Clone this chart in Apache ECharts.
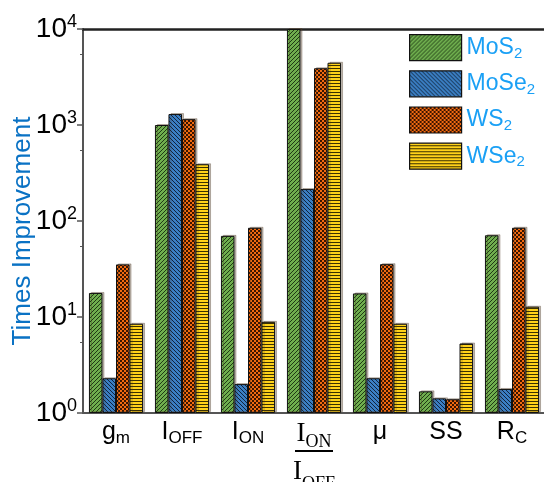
<!DOCTYPE html>
<html><head><meta charset="utf-8">
<script src="https://cdn.jsdelivr.net/npm/echarts@6/dist/echarts.min.js"></script>
<style>html,body{margin:0;padding:0;background:#fff}#c{width:544px;height:482px}</style>
</head><body><div id="c"></div>
<script>
const categories = ['gm', 'IOFF', 'ION', 'ION/IOFF', 'μ', 'SS', 'RC'];
const seriesNames = ['MoS2', 'MoSe2', 'WS2', 'WSe2'];
const mos2  = [17.8, 1000, 70, 10000, 17.6, 1.68, 71];
const mose2 = [2.3, 1300, 2.0, 215, 2.3, 1.42, 1.78];
const ws2   = [35.3, 1150, 85, 3900, 35.5, 1.39, 85];
const wse2  = [8.5, 390, 8.9, 4450, 8.5, 5.3, 12.8];
const yTicks = [1, 10, 100, 1000, 10000];

function pat(w, h, draw) {
  const c = document.createElement('canvas');
  c.width = w; c.height = h;
  const g = c.getContext('2d');
  draw(g, w, h);
  return { image: c, repeat: 'repeat' };
}
const greenPat = pat(4, 4, (g) => {
  g.fillStyle = '#6fae4e'; g.fillRect(0, 0, 4, 4);
  g.fillStyle = '#1f3a14';
  for (let i = 0; i < 4; i++) g.fillRect((3 - i + 4) % 4, i, 1, 1);
});
const bluePat = pat(4, 4, (g) => {
  g.fillStyle = '#3b7fc4'; g.fillRect(0, 0, 4, 4);
  g.fillStyle = '#10243d';
  for (let i = 0; i < 4; i++) g.fillRect(i, i, 1, 1);
});
const orangePat = pat(4, 4, (g) => {
  g.fillStyle = '#f26a10'; g.fillRect(0, 0, 4, 4);
  g.fillStyle = '#3a1500';
  g.fillRect(0, 0, 2, 2); g.fillRect(2, 2, 2, 2);
});
const yellowPat = pat(4, 3, (g) => {
  g.fillStyle = '#ffd21a'; g.fillRect(0, 0, 4, 3);
  g.fillStyle = '#3a3000';
  g.fillRect(0, 2, 4, 1);
});
const pats = [greenPat, bluePat, orangePat, yellowPat];
const dataArr = [mos2, mose2, ws2, wse2];

const xLabelMap = {
  'gm': '{m|g}{s|m}',
  'IOFF': '{m|I}{s|OFF}',
  'ION': '{m|I}{s|ON}',
  'ION/IOFF': '{fm|I}{fs|ON}\n{hr|}\n{fm2|I}{fs2|OFF}',
  'μ': '{m|μ}',
  'SS': '{m|SS}',
  'RC': '{m|R}{s|C}'
};
const legendMap = {
  'MoS2': '{l|MoS}{ls|2}', 'MoSe2': '{l|MoSe}{ls|2}', 'WS2': '{l|WS}{ls|2}', 'WSe2': '{l|WSe}{ls|2}'
};

const chart = echarts.init(document.getElementById('c'), null, { renderer: 'canvas' });
chart.setOption({
  animation: false,
  backgroundColor: '#fff',
  grid: { left: 83, top: 29, width: 462, height: 384, containLabel: false, outerBoundsMode: 'none', show: false },
  legend: {
    orient: 'vertical', left: 409, top: 34, icon: 'rect',
    itemWidth: 52, itemHeight: 26, itemGap: 9, itemStyle: { borderColor: '#111', borderWidth: 1.2 },
    backgroundColor: '#fff',
    padding: 0,
    formatter: (n) => legendMap[n],
    textStyle: {
      rich: {
        l: { fontFamily: 'Liberation Sans', fontSize: 23, color: '#1aa0f5', lineHeight: 26 },
        ls: { fontFamily: 'Liberation Sans', fontSize: 15, color: '#1aa0f5', lineHeight: 26, padding: [12, 0, 0, 0] }
      }
    },
    data: seriesNames
  },
  xAxis: [{
    type: 'category', data: categories,
    axisLine: { lineStyle: { color: '#555', width: 2 } },
    axisTick: { show: false },
    axisLabel: {
      interval: 0, margin: 4, color: '#000',
      formatter: (v) => xLabelMap[v],
      rich: {
        m: { fontFamily: 'Liberation Sans', fontSize: 25, color: '#000', lineHeight: 30 },
        s: { fontFamily: 'Liberation Sans', fontSize: 17, color: '#000', lineHeight: 20, verticalAlign: 'bottom' },
        fm: { fontFamily: 'Liberation Serif', fontSize: 27, color: '#000', lineHeight: 34 },
        fs: { fontFamily: 'Liberation Serif', fontSize: 18, color: '#000', lineHeight: 18, verticalAlign: 'bottom' },
        fm2: { fontFamily: 'Liberation Serif', fontSize: 27, color: '#000', lineHeight: 42 },
        fs2: { fontFamily: 'Liberation Serif', fontSize: 18, color: '#000', lineHeight: 26, verticalAlign: 'bottom' },
        hr: { width: 38, height: 0, borderColor: '#000', borderWidth: 2 }
      }
    }
  }, {
    type: 'category', data: categories, position: 'top',
    axisLine: { show: true, lineStyle: { color: '#222', width: 2.5 } },
    axisTick: { show: false }, axisLabel: { show: false }
  }],
  yAxis: {
    type: 'log', logBase: 10, min: 1, max: 10000,
    name: 'Times Improvement', nameLocation: 'middle', nameGap: 47, nameMoveOverlap: false,
    nameTextStyle: { fontFamily: 'Liberation Sans', fontSize: 26, color: '#0a72c4', padding: [0, 20, 0, 0] },
    axisLine: { show: true, lineStyle: { color: '#555', width: 2 } },
    axisTick: { show: true, length: 6, lineStyle: { color: '#555', width: 1.5 } },
    minorTick: { show: true, splitNumber: 2, length: 3, lineStyle: { color: '#555' } },
    splitLine: { show: false },
    axisLabel: {
      margin: 6,
      formatter: (v) => '{b|10}{e|' + Math.round(Math.log10(v)) + '}',
      rich: {
        b: { fontFamily: 'Liberation Sans', fontSize: 28, color: '#000', lineHeight: 30 },
        e: { fontFamily: 'Liberation Sans', fontSize: 18, color: '#000', lineHeight: 30, padding: [0, 0, 14, 0] }
      }
    }
  },
  series: seriesNames.map((n, i) => ({
    name: n, type: 'bar', data: dataArr[i],
    barGap: '0%', barCategoryGap: '18%',
    itemStyle: { color: pats[i], borderColor: '#111', borderWidth: 1, shadowColor: 'rgba(80,60,40,0.35)', shadowOffsetX: 2, shadowOffsetY: -1, shadowBlur: 0 }
  }))
});
</script></body></html>
